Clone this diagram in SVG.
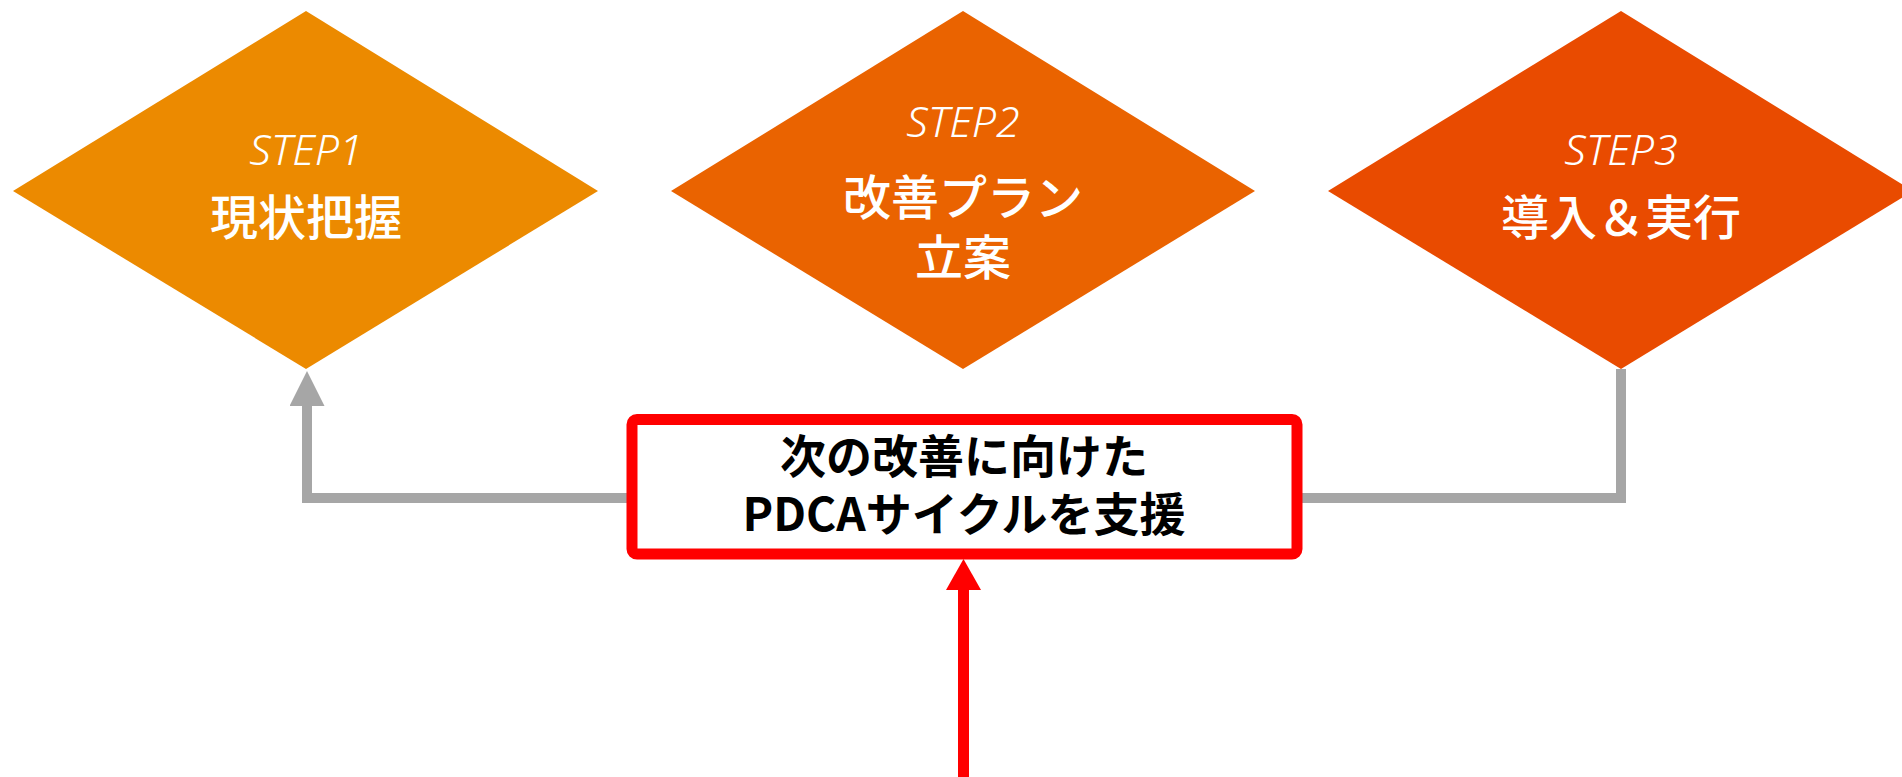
<svg xmlns="http://www.w3.org/2000/svg" width="1902" height="777" viewBox="0 0 1902 777">
  <style>
    .step { font-family: "Noto Sans", "Open Sans", sans-serif; font-style: italic; font-weight: 300; font-size: 43px; fill: #FFFFFF; text-anchor: middle; }
    .jp { font-family: "Noto Sans CJK JP", "Noto Sans", sans-serif; font-weight: 500; font-size: 48px; fill: #FFFFFF; text-anchor: middle; }
    .box-text { font-family: "Noto Sans CJK JP", "Noto Sans", sans-serif; font-weight: bold; font-size: 46px; fill: #000000; text-anchor: middle; }
    .gray { fill: none; stroke: #A6A6A6; stroke-width: 10; }
    .red { fill: none; stroke: #FF0000; stroke-width: 11; }
  </style>
  <defs>
    <marker id="arrowGray" markerUnits="userSpaceOnUse" markerWidth="36" markerHeight="36" refX="0" refY="17.5" orient="auto" viewBox="0 0 36 36">
      <path d="M0,0 L35,17.5 L0,35 Z" fill="#A6A6A6"/>
    </marker>
    <marker id="arrowRed" markerUnits="userSpaceOnUse" markerWidth="36" markerHeight="36" refX="0" refY="17.5" orient="auto" viewBox="0 0 36 36">
      <path d="M0,0 L31,17.5 L0,35 Z" fill="#FF0000"/>
    </marker>
  </defs>

  <g id="connectors">
    <path class="gray" d="M1621,369 V498 H1302"/>
    <path class="gray" d="M627,498 H307 V406" marker-end="url(#arrowGray)"/>
    <path class="red" d="M963.5,777 V590" marker-end="url(#arrowRed)"/>
  </g>

  <g id="step1">
    <polygon points="306,11 598,191 306,369 13,191" fill="#EC8A00"/>
    <text class="step" x="306" y="165">STEP1</text>
    <text class="jp" x="306" y="235">現状把握</text>
  </g>

  <g id="step2">
    <polygon points="963,11 1255,191 963,369 671,191" fill="#EA6300"/>
    <text class="step" x="963" y="137">STEP2</text>
    <text class="jp" x="963" y="215">改善プラン</text>
    <text class="jp" x="963" y="275">立案</text>
  </g>

  <g id="step3">
    <polygon points="1621,11 1913,191 1621,369 1328,191" fill="#E94B00"/>
    <text class="step" x="1621" y="165">STEP3</text>
    <text class="jp" x="1621" y="235">導入＆実行</text>
  </g>

  <g id="pdca-box">
    <rect x="632" y="419.5" width="665" height="134.5" rx="5" ry="5" fill="#FFFFFF" stroke="#FF0000" stroke-width="11"/>
    <text class="box-text" x="964" y="473">次の改善に向けた</text>
    <text class="box-text" x="964" y="531">PDCAサイクルを支援</text>
  </g>
</svg>
